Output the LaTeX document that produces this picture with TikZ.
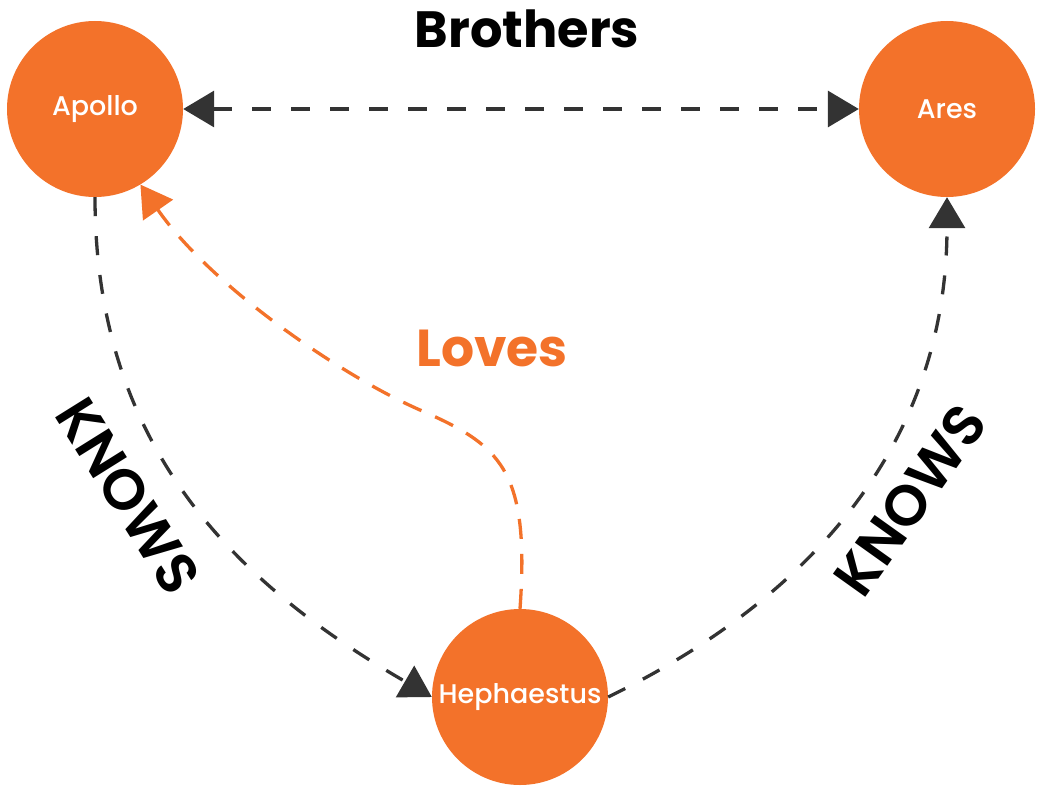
\documentclass[tikz,border=0pt]{standalone}
\usepackage{fontspec}
\setmainfont{Poppins}
\newfontfamily\godfont{Poppins Medium}
\newfontfamily\relfont{Poppins SemiBold}
\usetikzlibrary{arrows.meta}
\definecolor{godorange}{RGB}{243,114,42}
\definecolor{linegray}{RGB}{51,51,51}

\begin{document}
\begin{tikzpicture}[x=1pt, y=-1pt, >={Triangle[length=31pt,width=36pt]},
  god/.style={circle, fill=godorange, minimum size=176pt, inner sep=0pt,
    text=white, font=\godfont\fontsize{27}{27}\selectfont},
  knows/.style={draw=linegray, line width=3.3pt, dash pattern=on 19pt off 20pt},
  loves/.style={draw=godorange, line width=3.3pt, dash pattern=on 20pt off 15pt},
  rel/.style={font=\relfont\fontsize{57}{57}\selectfont}]

  \useasboundingbox (0,0) rectangle (1046,789);

  % the gods
  \node (apollo) [god] at (95,109) {Apollo};
  \node (ares)   [god] at (947,109) {Ares};
  \node (heph)   [god] at (520,697) {Hephaestus};

  % relations
  \draw [knows, <->] (apollo.east) -- (ares.west);
  \draw [knows, ->] (apollo.south) .. controls +(0,253) and +(-193,-112) .. (heph.west);
  \draw [knows, ->] (heph.east) .. controls +(225,-110) and +(0,227) .. (ares.south);

  \coordinate (bend) at (420,410);
  \draw [loves, ->] (heph.north) .. controls +(10,-140) and +(80,35) .. (bend)
    .. controls +(-80,-35) and +(70,101) .. (apollo.-59);

  % labels
  \node (brothers) [anchor=base, font=\bfseries\fontsize{51}{51}\selectfont] at (527,48) {Brothers};
  \node (loveslbl) [anchor=base, text=godorange, font=\bfseries\fontsize{52}{52}\selectfont] at (492,366) {Loves};
  \node (knowsa) [rel, rotate=-58] at (128,496) {KNOWS};
  \node (knowsb) [rel, rotate=54.5] at (910,500) {KNOWS};
\end{tikzpicture}
\end{document}
